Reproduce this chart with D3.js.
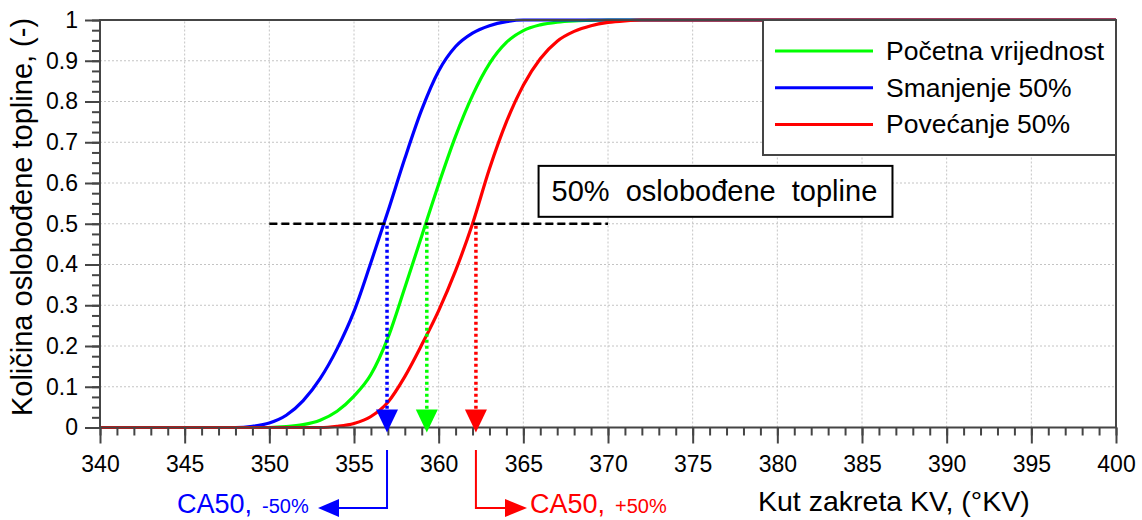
<!DOCTYPE html>
<html>
<head>
<meta charset="utf-8">
<script src="https://cdn.jsdelivr.net/npm/d3@7"></script>
<style>
body { margin: 0; background: #fff; }
svg { display: block; font-family: "Liberation Sans", Arial, sans-serif; }
</style>
</head>
<body>
<div id="dis"></div>
<script>
// crank angle, deg
var angle = [340, 348, 349, 350, 351, 352, 353, 354, 355, 356, 357, 358, 359, 360,
             361, 362, 363, 364, 365, 366, 367, 368, 369, 370, 371, 372, 400];

// burned fraction for each case
var baseVals = [0, 0, 0, 0, 0.002, 0.007, 0.018, 0.04, 0.077, 0.13, 0.22, 0.343, 0.47, 0.597,
                0.715, 0.815, 0.893, 0.945, 0.974, 0.988, 0.995, 0.998, 0.999, 1, 1, 1, 1];
var lowVals = [0, 0, 0.003, 0.011, 0.03, 0.066, 0.12, 0.193, 0.285, 0.405, 0.53, 0.66, 0.78, 0.875,
               0.935, 0.968, 0.986, 0.996, 1, 1, 1, 1, 1, 1, 1, 1, 1];
var highVals = [0, 0, 0, 0, 0, 0, 0, 0.003, 0.01, 0.027, 0.062, 0.125, 0.203, 0.287,
                0.385, 0.5, 0.635, 0.75, 0.84, 0.905, 0.948, 0.972, 0.986, 0.994, 0.998, 1, 1];

var seriesNames = ["Početna vrijednost", "Smanjenje 50%", "Povećanje 50%"];
var seriesColors = ["#00ff00", "#0000ff", "#ff0000"];
var ca50 = [359.3, 356.95, 362.2];

var xTicks = [340, 345, 350, 355, 360, 365, 370, 375, 380, 385, 390, 395, 400];
var yTicks = [0, 0.1, 0.2, 0.3, 0.4, 0.5, 0.6, 0.7, 0.8, 0.9, 1];
var yLabels = ["0", "0.1", "0.2", "0.3", "0.4", "0.5", "0.6", "0.7", "0.8", "0.9", "1"];

var halfLevel = 0.5;
var halfFrom = 350, halfTo = 370;
var noteText = "50%  oslobođene  topline";
var noteBox = [365.9, 386.8, 0.517, 0.642];

var draw = function() {
    var width = 1142, height = 520;
    var x = d3.scaleLinear().domain([340, 400]).range([100, 1116]);
    var y = d3.scaleLinear().domain([0, 1]).range([427.5, 20]);
    var axisCol = "#454545";

    var svg = d3.select("#dis").append("svg")
        .attr("width", width)
        .attr("height", height);

    svg.append("rect").attr("width", width).attr("height", height).attr("fill", "#fff");

    // grid
    var grid = svg.append("g")
        .attr("stroke", "#c4c4c4")
        .attr("stroke-width", 1)
        .attr("stroke-dasharray", "2,2");
    grid.selectAll("line.gx")
        .data(xTicks.slice(1, -1))
        .join("line")
            .attr("class", "gx")
            .attr("x1", d => x(d)).attr("x2", d => x(d))
            .attr("y1", y(0)).attr("y2", y(1));
    grid.selectAll("line.gy")
        .data(yTicks.slice(1, -1))
        .join("line")
            .attr("class", "gy")
            .attr("x1", x(340)).attr("x2", x(400))
            .attr("y1", d => y(d)).attr("y2", d => y(d));

    // curves
    var series = [baseVals, lowVals, highVals].map((vals, i) => ({
        name: seriesNames[i],
        color: seriesColors[i],
        pts: angle.map((a, j) => [a, vals[j]])
    }));
    var line = d3.line().curve(d3.curveMonotoneX).x(d => x(d[0])).y(d => y(d[1]));
    svg.append("g")
        .attr("fill", "none")
        .attr("stroke-width", 3.2)
        .attr("stroke-linejoin", "round")
        .selectAll("path")
        .data(series)
        .join("path")
            .attr("stroke", d => d.color)
            .attr("d", d => line(d.pts));

    // x axis
    var xMinor = svg.append("g")
        .attr("transform", "translate(0," + y(0) + ")")
        .call(d3.axisBottom(x).tickValues(d3.range(340, 401, 1)).tickSize(8).tickFormat(""));
    var xAxis = svg.append("g")
        .attr("transform", "translate(0," + y(0) + ")")
        .call(d3.axisBottom(x).tickValues(xTicks).tickSize(16).tickPadding(12).tickFormat(d3.format("d")));
    // y axis
    var yMinor = svg.append("g")
        .attr("transform", "translate(" + x(340) + ",0)")
        .call(d3.axisLeft(y).tickValues(d3.range(0, 1.001, 0.025)).tickSize(8).tickFormat(""));
    var yAxis = svg.append("g")
        .attr("transform", "translate(" + x(340) + ",0)")
        .call(d3.axisLeft(y).tickValues(yTicks).tickSize(15).tickPadding(7).tickFormat((d, i) => yLabels[i]));

    [xMinor, xAxis, yMinor, yAxis].forEach(g => {
        g.select(".domain").remove();
        g.selectAll(".tick line").attr("stroke", axisCol).attr("stroke-width", 2);
        g.selectAll("text")
            .attr("fill", "#000")
            .attr("font-size", 23)
            .attr("font-family", "Liberation Sans, Arial, sans-serif");
    });

    // frame
    svg.append("path")
        .attr("fill", "none")
        .attr("stroke", axisCol)
        .attr("stroke-width", 2)
        .attr("d", "M" + x(340) + "," + y(1) + "V" + y(0) + "H" + x(400) + "V" + y(1) + "Z");

    // 50% level
    svg.append("line")
        .attr("x1", x(halfFrom)).attr("x2", x(halfTo))
        .attr("y1", y(halfLevel)).attr("y2", y(halfLevel))
        .attr("stroke", "#000")
        .attr("stroke-width", 2.5)
        .attr("stroke-dasharray", "8,4");

    var marks = svg.append("g").selectAll("g")
        .data(ca50)
        .join("g");
    marks.append("line")
        .attr("x1", d => x(d)).attr("x2", d => x(d))
        .attr("y1", y(halfLevel) + 2).attr("y2", y(0) - 16)
        .attr("stroke", (d, i) => seriesColors[i])
        .attr("stroke-width", 3.5)
        .attr("stroke-dasharray", "3,3");
    marks.append("path")
        .attr("fill", (d, i) => seriesColors[i])
        .attr("d", d => "M" + (x(d) - 11) + "," + (y(0) - 18) + "h22L" + x(d) + "," + (y(0) + 5) + "Z");

    // annotation box
    svg.append("rect")
        .attr("x", x(noteBox[0]))
        .attr("y", y(noteBox[3]))
        .attr("width", x(noteBox[1]) - x(noteBox[0]))
        .attr("height", y(noteBox[2]) - y(noteBox[3]))
        .attr("fill", "#fff")
        .attr("stroke", "#000")
        .attr("stroke-width", 2);
    svg.append("text")
        .attr("x", x(noteBox[0]) + 13)
        .attr("y", y(noteBox[3]) + 35)
        .attr("font-size", 29)
        .attr("xml:space", "preserve")
        .style("white-space", "pre")
        .text(noteText);

    // CA50 leaders below axis
    var lowX = x(ca50[1]), highX = x(ca50[2]);
    svg.append("path")
        .attr("fill", "none").attr("stroke", seriesColors[1]).attr("stroke-width", 2)
        .attr("d", "M" + lowX + ",450V508H335");
    svg.append("path")
        .attr("fill", seriesColors[1])
        .attr("d", "M318,508L339,499V517Z");
    svg.append("path")
        .attr("fill", "none").attr("stroke", seriesColors[2]).attr("stroke-width", 2)
        .attr("d", "M" + highX + ",450V508H508");
    svg.append("path")
        .attr("fill", seriesColors[2])
        .attr("d", "M527,508L505,499V517Z");

    var t1 = svg.append("text").attr("x", 177).attr("y", 513)
        .attr("fill", seriesColors[1]).attr("font-size", 27).text("CA50,");
    t1.append("tspan").attr("dx", 10).attr("font-size", 20).text("-50%");
    var t2 = svg.append("text").attr("x", 530).attr("y", 513)
        .attr("fill", seriesColors[2]).attr("font-size", 27).text("CA50,");
    t2.append("tspan").attr("dx", 10).attr("font-size", 20).text("+50%");

    // axis titles
    svg.append("text")
        .attr("x", 758).attr("y", 511)
        .attr("font-size", 28.5)
        .text("Kut zakreta KV, (°KV)");
    svg.append("text")
        .attr("transform", "translate(32,217) rotate(-90)")
        .attr("text-anchor", "middle")
        .attr("font-size", 29)
        .text("Količina oslobođene topline, (-)");

    // legend
    var lg = svg.append("g").attr("transform", "translate(" + (x(400) - 353) + "," + y(1) + ")");
    lg.append("rect")
        .attr("width", 353).attr("height", 135)
        .attr("fill", "#fff")
        .attr("stroke", axisCol)
        .attr("stroke-width", 2);
    var item = lg.selectAll("g")
        .data(series)
        .join("g")
        .attr("transform", (d, i) => "translate(0," + (31 + i * 36.7) + ")");
    item.append("line")
        .attr("x1", 12).attr("x2", 110)
        .attr("stroke", d => d.color)
        .attr("stroke-width", 3);
    item.append("text")
        .attr("x", 123).attr("y", 9)
        .attr("font-size", 26.5)
        .text(d => d.name);
};

window.onload = function() {
    draw();
};
</script>
</body>
</html>
